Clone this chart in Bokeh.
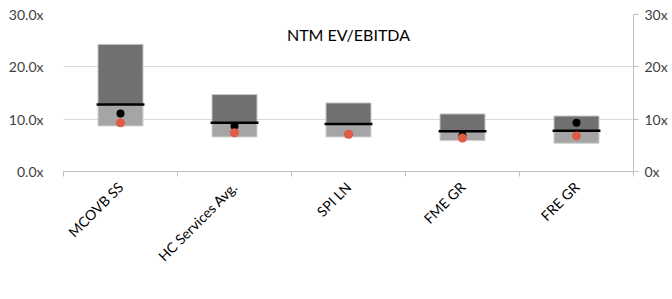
from bokeh.plotting import figure
from bokeh.models import (ColumnDataSource, Range1d, LinearAxis, FixedTicker,
                          PrintfTickFormatter, Legend, LegendItem, Label)
from bokeh.embed import file_html
from bokeh.resources import INLINE

categories = ["MCOVB SS", "HC Services Avg.", "SPI LN", "FME GR", "FRE GR"]
min_vals = [8.7, 6.6, 6.6, 5.9, 5.4]
avg_vals = [12.8, 9.3, 9.1, 7.7, 7.8]
max_vals = [24.3, 14.7, 13.1, 11.0, 10.6]
current_vals = [11.1, 8.7, 7.1, 6.9, 9.3]
covid_vals = [9.3, 7.4, 7.1, 6.4, 6.8]
y_ticks = [0, 10, 20, 30]

FONT = "Lato"
TXT = "#404040"
LIGHT = "#A5A5A5"
DARK = "#707070"
RED = "#E15B47"

xs = [i + 0.5 for i in range(len(categories))]
src = ColumnDataSource(dict(x=xs, mn=min_vals, avg=avg_vals, mx=max_vals,
                            cur=current_vals, cov=covid_vals))

p = figure(frame_width=570, frame_height=157, output_backend="svg",
           toolbar_location=None,
           x_range=Range1d(0, len(categories)), y_range=Range1d(0, 30),
           min_border_left=63, min_border_right=30, min_border_top=14,
           min_border_bottom=0)
p.outline_line_color = None
p.background_fill_color = "white"

r_low = p.vbar(x="x", bottom="mn", top="avg", width=0.395, source=src,
               fill_color=LIGHT, line_color="#D0D0D0", line_width=1)
r_high = p.vbar(x="x", bottom="avg", top="mx", width=0.395, source=src,
                fill_color=DARK, line_color="#C8C8C8", line_width=1)
p.rect(x="x", y="avg", width=0.42, height=2.5, height_units="screen",
       source=src, fill_color="black", line_color=None)
r_cur = p.scatter(x="x", y="cur", size=8, source=src, fill_color="black",
                  line_color=None)
r_cov = p.scatter(x="x", y="cov", size=9, source=src, fill_color=RED,
                  line_color=None)

# legend-only glyphs (drawn off-range so they do not appear in the plot)
dummy = ColumnDataSource(dict(x=[0.5], y=[-100]))
r_avg_leg = p.scatter(x="x", y="y", source=dummy, marker="square", size=10,
                      fill_color=DARK, line_color="black", line_width=2)
r_cur_leg = p.scatter(x="x", y="y", source=dummy, size=7, fill_color="black",
                      line_color=None)
r_cov_leg = p.scatter(x="x", y="y", source=dummy, size=8, fill_color=RED,
                      line_color=None)

# axes
xa = p.xaxis[0]
xa.axis_label = None
xa.ticker = FixedTicker(ticks=xs, minor_ticks=list(range(len(categories) + 1)))
xa.major_label_overrides = {x: c for x, c in zip(xs, categories)}
xa.major_label_orientation = 0.785398
xa.major_tick_line_color = None
xa.major_tick_in = 0
xa.major_tick_out = 0
xa.minor_tick_in = 0
xa.minor_tick_out = 5
xa.minor_tick_line_color = "#BFBFBF"
xa.axis_line_color = "#BFBFBF"
xa.major_label_text_font = FONT
xa.major_label_text_font_size = "14px"
xa.major_label_text_color = "black"
xa.major_label_standoff = 8

ya = p.yaxis[0]
ya.ticker = FixedTicker(ticks=y_ticks)
ya.formatter = PrintfTickFormatter(format="%.1fx")
ya.axis_line_color = None
ya.major_tick_line_color = None
ya.minor_tick_line_color = None
ya.major_label_text_font = FONT
ya.major_label_text_font_size = "14px"
ya.major_label_text_color = TXT
ya.major_label_standoff = 14

ra = LinearAxis(ticker=FixedTicker(ticks=y_ticks),
                formatter=PrintfTickFormatter(format="%dx"))
ra.axis_line_color = "#BFBFBF"
ra.major_tick_line_color = "#BFBFBF"
ra.major_tick_in = 0
ra.major_tick_out = 5
ra.minor_tick_line_color = None
ra.major_label_text_font = FONT
ra.major_label_text_font_size = "14px"
ra.major_label_text_color = TXT
ra.major_label_standoff = 6
p.add_layout(ra, "right")

p.xgrid.grid_line_color = None
p.ygrid.ticker = FixedTicker(ticks=y_ticks)
p.ygrid.grid_line_color = "#D9D9D9"
p.ygrid.grid_line_width = 1

title = Label(x=2.5, y=30, y_offset=-20, text="NTM EV/EBITDA",
              text_align="center", text_baseline="middle",
              text_font=FONT, text_font_size="16px", text_color="black")
p.add_layout(title)

legend = Legend(items=[
    LegendItem(label="Min < Average", renderers=[r_low]),
    LegendItem(label="Average", renderers=[r_avg_leg]),
    LegendItem(label="Average < Max", renderers=[r_high]),
    LegendItem(label="Current", renderers=[r_cur_leg]),
    LegendItem(label="COVID", renderers=[r_cov_leg]),
], orientation="horizontal", location=(56, 0))
legend.label_text_font = FONT
legend.label_text_font_size = "14px"
legend.label_text_color = "black"
legend.label_height = 14
legend.glyph_width = 11
legend.glyph_height = 11
legend.label_standoff = 3
legend.spacing = 14
legend.padding = 0
legend.margin = 0
legend.border_line_color = None
legend.background_fill_alpha = 0
p.add_layout(legend, "below")

open("out.html", "w").write(file_html(p, INLINE))
